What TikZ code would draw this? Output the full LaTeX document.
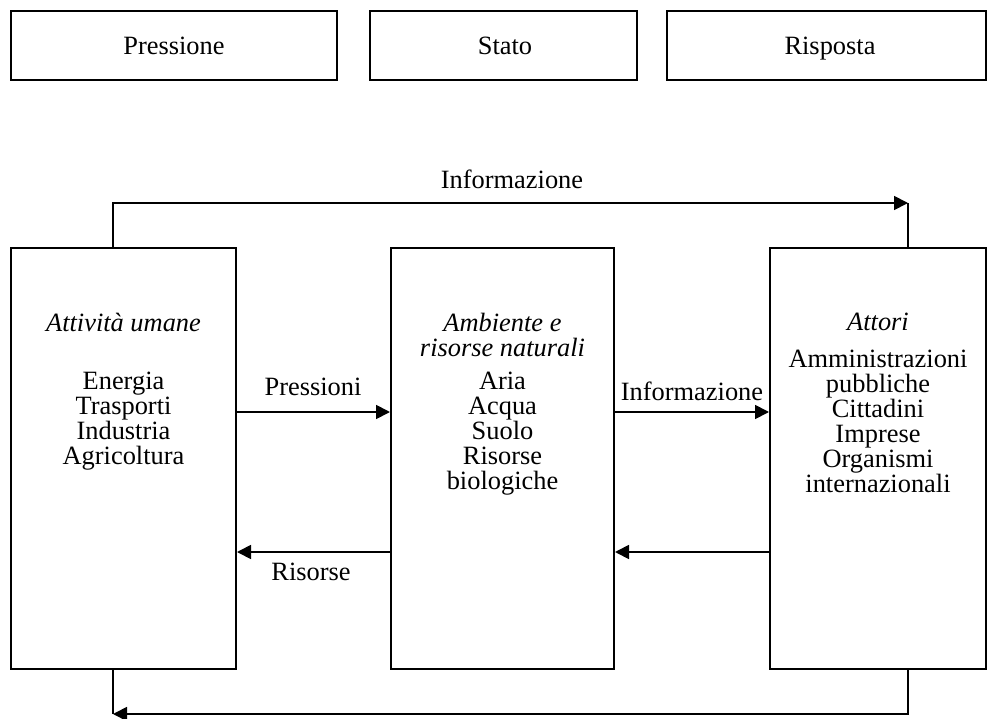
\documentclass[tikz,border=0pt]{standalone}
\usepackage{fontspec}
\setmainfont{Liberation Serif}
\usetikzlibrary{arrows.meta}
\tikzset{
  box/.style={draw, line width=2pt, inner sep=0pt},
  conn/.style={line width=1.8pt},
  arr/.style={conn, -{Triangle[length=14pt,width=14pt]}},
  txt/.style={align=center, inner sep=0pt, font=\fontsize{26.4}{25}\selectfont},
  lab/.style={txt, anchor=base},
}
\begin{document}
\begin{tikzpicture}[x=1pt,y=-1pt]
\useasboundingbox (0,0) rectangle (987,719);
% top boxes
\node[box, minimum width=326pt, minimum height=69pt] (p) at (174,45.5) {};
\node[box, minimum width=267pt, minimum height=69pt] (s) at (503.5,45.5) {};
\node[box, minimum width=319pt, minimum height=69pt] (r) at (826.5,45.5) {};
\node[lab] (pt) at (174,55) {Pressione};
\node[lab] (st) at (505,55) {Stato};
\node[lab] (rt0) at (830,55) {Risposta};
% big boxes
\node[box, minimum width=225pt, minimum height=421pt] (L) at (123.5,458.5) {};
\node[box, minimum width=223pt, minimum height=421pt] (M) at (502.5,458.5) {};
\node[box, minimum width=216pt, minimum height=421pt] (R) at (878,458.5) {};
% box texts
\node[txt] (lt) at (123.5,322) {\itshape Attività umane};
\node[txt] (ll) at (123.5,421) {Energia\\Trasporti\\Industria\\Agricoltura};
\node[txt] (mt) at (502.5,334.5) {\itshape Ambiente e\\\itshape risorse naturali};
\node[txt] (ml) at (502.5,433.5) {Aria\\Acqua\\Suolo\\Risorse\\biologiche};
\node[txt] (rt) at (878,322) {\itshape Attori};
\node[txt] (rl) at (878,421) {Amministrazioni\\pubbliche\\Cittadini\\Imprese\\Organismi\\internazionali};
% helper coordinates
\coordinate (tl) at (113,203);
\coordinate (tr) at (908,203);
\coordinate (bl) at (113,714);
\coordinate (br) at (908,714);
\coordinate (ya) at (0,412);
\coordinate (yb) at (0,552);
% top loop
\draw[arr] (L.north -| tl) -- (tl) -- (tr);
\draw[conn] (tr) -- (R.north -| tr);
\node[lab] (tinfo) at (512,189) {Informazione};
% bottom loop
\draw[arr] (R.south -| br) -- (br) -- (bl);
\draw[conn] (bl) -- (L.south -| bl);
% horizontal arrows
\draw[arr] (L.east |- ya) -- (M.west |- ya);
\draw[arr] (M.east |- ya) -- (R.west |- ya);
\draw[arr] (M.west |- yb) -- (L.east |- yb);
\draw[arr] (R.west |- yb) -- (M.east |- yb);
\node[lab] (lpress) at (313,395) {Pressioni};
\node[lab] (linfo) at (692,400) {Informazione};
\node[lab] (lris) at (311,580) {Risorse};
\end{tikzpicture}
\end{document}
